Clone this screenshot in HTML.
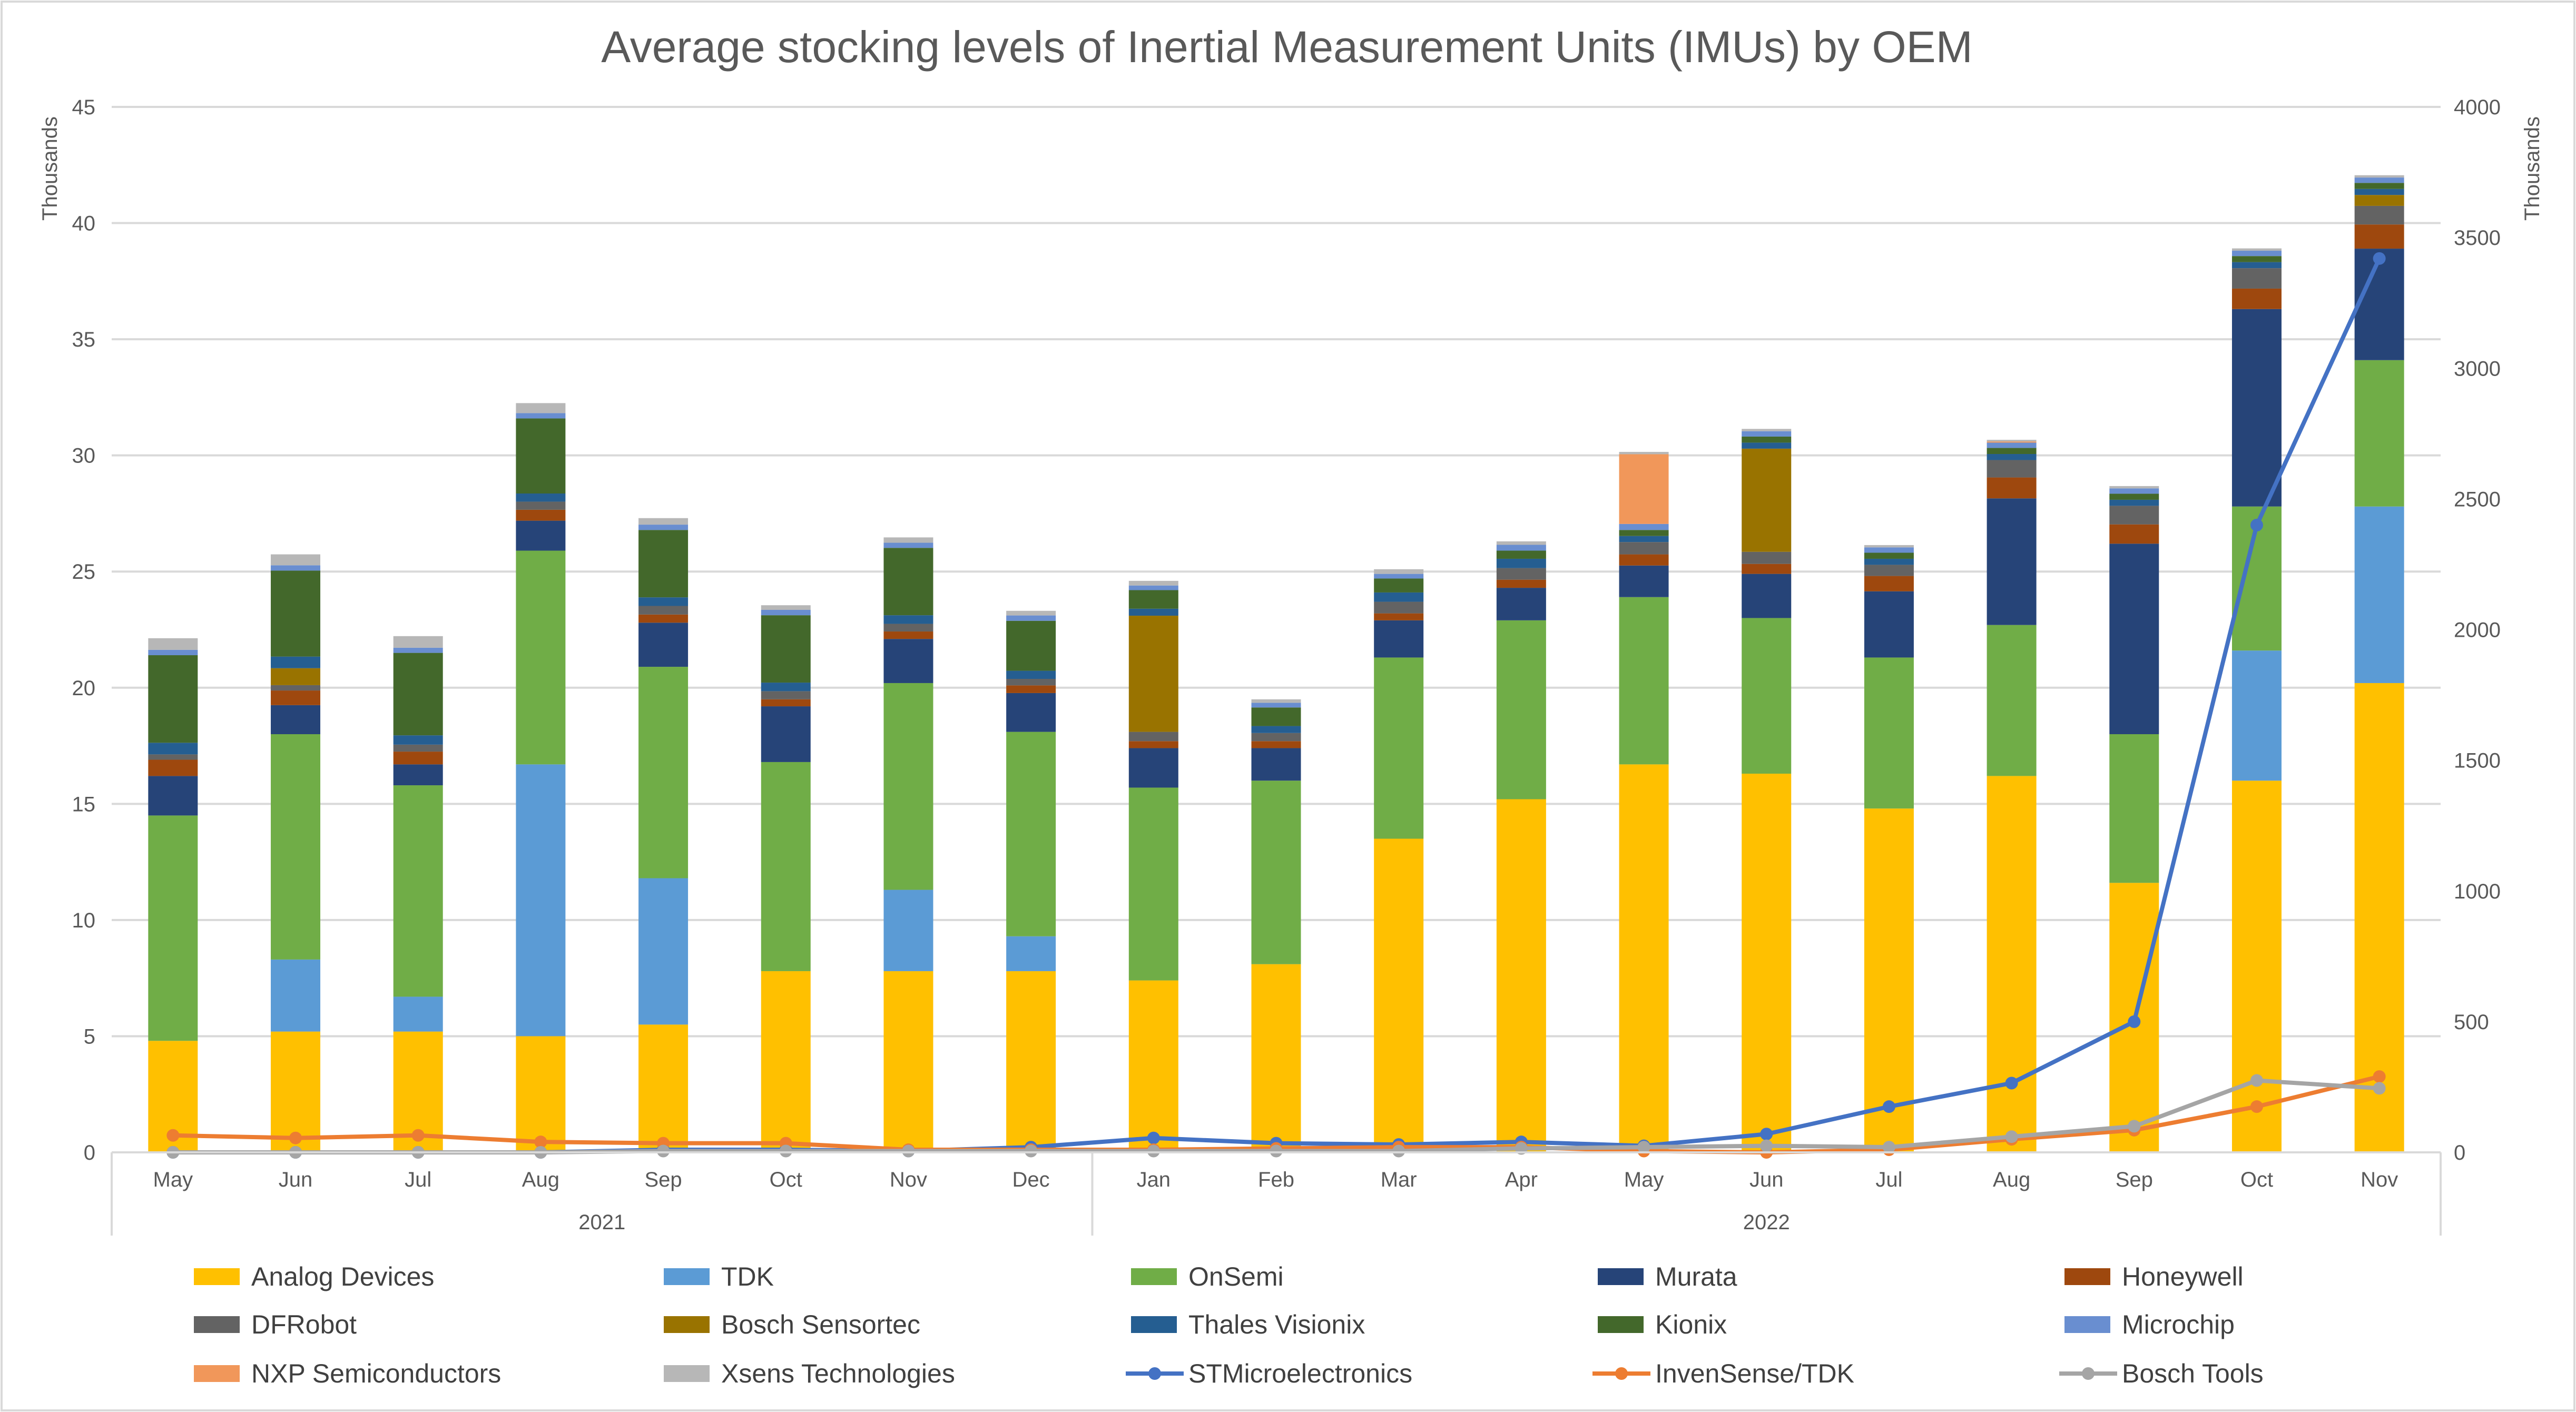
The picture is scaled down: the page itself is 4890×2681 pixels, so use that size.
<!DOCTYPE html>
<html><head><meta charset="utf-8"><style>
html,body{margin:0;padding:0;background:#fff;}
svg{display:block;font-family:"Liberation Sans",sans-serif;}
</style></head><body>
<svg id="chart" width="4890" height="2681" viewBox="0 0 4890 2681" xmlns="http://www.w3.org/2000/svg">
<rect x="3" y="3" width="4884" height="2675" fill="#fff" stroke="#d9d9d9" stroke-width="4"/>
<text x="2443" y="118" text-anchor="middle" font-size="84" fill="#595959">Average stocking levels of Inertial Measurement Units (IMUs) by OEM</text>
<text transform="translate(108,320) rotate(-90)" text-anchor="middle" font-size="40" fill="#595959">Thousands</text>
<text transform="translate(4820,320) rotate(-90)" text-anchor="middle" font-size="40" fill="#595959">Thousands</text>
<g id="grid"></g><g id="bars"></g><g id="lines"></g><g id="axes"></g><g id="legend"></g>
</svg>
<script>
const months = ["May","Jun","Jul","Aug","Sep","Oct","Nov","Dec","Jan","Feb","Mar","Apr","May","Jun","Jul","Aug","Sep","Oct","Nov"];
const years = ["2021","2022"];
const leftTicks = [0,5,10,15,20,25,30,35,40,45];
const rightTicks = [0,500,1000,1500,2000,2500,3000,3500,4000];
const seriesNames = ["Analog Devices","TDK","OnSemi","Murata","Honeywell","DFRobot","Bosch Sensortec","Thales Visionix","Kionix","Microchip","NXP Semiconductors","Xsens Technologies"];
const seriesColors = ["#ffc000","#5b9bd5","#70ad47","#264478","#9e480e","#636363","#997300","#255e91","#43682b","#698ed0","#f1975a","#b7b7b7"];
const analogDevices = [4.8,5.2,5.2,5.0,5.5,7.8,7.8,7.8,7.4,8.1,13.5,15.2,16.7,16.3,14.8,16.2,11.6,16.0,20.2];
const tdk = [0,3.1,1.5,11.7,6.3,0,3.5,1.5,0,0,0,0,0,0,0,0,0,5.6,7.6];
const onSemi = [9.7,9.7,9.1,9.2,9.1,9.0,8.9,8.8,8.3,7.9,7.8,7.7,7.2,6.7,6.5,6.5,6.4,6.2,6.3];
const murata = [1.7,1.25,0.9,1.29,1.9,2.4,1.9,1.67,1.7,1.4,1.6,1.4,1.36,1.9,2.85,5.45,8.2,8.5,4.8];
const honeywell = [0.7,0.63,0.55,0.47,0.35,0.3,0.32,0.33,0.3,0.3,0.3,0.35,0.48,0.43,0.66,0.9,0.83,0.88,1.04];
const dfRobot = [0.23,0.23,0.3,0.35,0.37,0.35,0.33,0.28,0.4,0.35,0.5,0.5,0.53,0.52,0.48,0.75,0.8,0.88,0.8];
const boschSensortec = [0,0.73,0,0,0,0,0,0,5.0,0,0,0,0,4.44,0,0,0,0,0.47];
const thalesVisionix = [0.5,0.5,0.4,0.35,0.37,0.37,0.37,0.35,0.3,0.3,0.4,0.4,0.26,0.26,0.26,0.26,0.26,0.26,0.26];
const kionix = [3.77,3.7,3.55,3.23,2.9,2.9,2.9,2.15,0.8,0.8,0.6,0.35,0.26,0.26,0.26,0.26,0.26,0.26,0.26];
const microchip = [0.23,0.23,0.22,0.23,0.23,0.23,0.22,0.23,0.2,0.2,0.2,0.25,0.26,0.23,0.23,0.23,0.23,0.23,0.23];
const nxp = [0,0,0,0,0,0,0,0,0,0,0,0,3.0,0,0,0.05,0,0,0];
const xsens = [0.5,0.47,0.5,0.43,0.28,0.2,0.23,0.2,0.2,0.15,0.2,0.15,0.1,0.1,0.1,0.07,0.1,0.1,0.1];
const stMicro = [0,0,0,0,10,10,5,20,55,35,30,40,25,70,175,265,500,2400,3420];
const invenSense = [65,55,65,40,35,35,10,10,10,15,20,20,5,0,10,50,85,175,290];
const boschTools = [0,0,0,0,5,5,5,5,5,5,5,15,20,25,20,60,100,275,245];
const lineNames = ["STMicroelectronics","InvenSense/TDK","Bosch Tools"];
const lineColors = ["#4472c4","#ed7d31","#a5a5a5"];

const NS="http://www.w3.org/2000/svg";
const X0=212,X1=4633,Y0=2188,Y45=203;
const band=(X1-X0)/months.length;
const xC=i=>X0+band*(i+0.5);
const yL=v=>Y0-(v/45)*(Y0-Y45);
const yR=v=>Y0-(v/4000)*(Y0-Y45);
function mk(tag,attrs,parent,txt){const e=document.createElementNS(NS,tag);for(const k in attrs)e.setAttribute(k,attrs[k]);if(txt!==undefined)e.textContent=txt;parent.appendChild(e);return e;}
const grid=document.getElementById('grid'),bars=document.getElementById('bars'),lines=document.getElementById('lines'),axes=document.getElementById('axes'),legend=document.getElementById('legend');

leftTicks.forEach(t=>{
  if(t>0){const g=mk('line',{x1:X0,x2:X1,y1:yL(t),y2:yL(t),stroke:'#d9d9d9','stroke-width':4},grid);
  
  }
  const l=mk('text',{x:181,y:yL(t)+14,'text-anchor':'end','font-size':40,fill:'#595959'},axes,String(t));
  
  
});
rightTicks.forEach(t=>{
  const l=mk('text',{x:4658,y:yR(t)+14,'text-anchor':'start','font-size':40,fill:'#595959'},axes,String(t));
  
  
});

const stacks=[analogDevices,tdk,onSemi,murata,honeywell,dfRobot,boschSensortec,thalesVisionix,kionix,microchip,nxp,xsens];
const bw=94;
months.forEach((m,i)=>{
  let base=0;
  stacks.forEach((s,k)=>{
    const v=s[i]; if(!v){return;}
    const r=mk('rect',{x:xC(i)-bw/2,y:yL(base+v),width:bw,height:yL(base)-yL(base+v),fill:seriesColors[k]},bars);
    
    
    base+=v;
  });
});

// axis line
const ax=mk('line',{x1:X0,x2:X1,y1:Y0,y2:Y0,stroke:'#d9d9d9','stroke-width':4},axes);


[0,8,19].forEach(i=>{
  const x=X0+band*i;
  const d=mk('line',{x1:x,x2:x,y1:Y0,y2:2346,stroke:'#d9d9d9','stroke-width':4},axes);
  
  
});
months.forEach((m,i)=>{
  const t=mk('text',{x:xC(i),y:2253,'text-anchor':'middle','font-size':40,fill:'#595959'},axes,m);
  
  
});
[[years[0],X0+band*4],[years[1],X0+band*13.5]].forEach(([y,x])=>{
  const t=mk('text',{x:x,y:2334,'text-anchor':'middle','font-size':40,fill:'#595959'},axes,y);
  
  
});

[stMicro,invenSense,boschTools].forEach((s,k)=>{
  const pts=s.map((v,i)=>xC(i)+','+yR(v)).join(' ');
  const p=mk('polyline',{points:pts,fill:'none',stroke:lineColors[k],'stroke-width':8,'stroke-linejoin':'round'},lines);
  
  
  s.forEach((v,i)=>{
    const c=mk('circle',{cx:xC(i),cy:yR(v),r:12,fill:lineColors[k]},lines);
    
    
  });
});

const colSw=[368,1260,2147,3033,3919], rowY=[2424,2515,2608];
const legendItems=seriesNames.map((n,k)=>({n,c:seriesColors[k],line:false})).concat(lineNames.map((n,k)=>({n,c:lineColors[k],line:true})));
legendItems.forEach((it,j)=>{
  const col=j%5,row=Math.floor(j/5);
  const x=colSw[col],y=rowY[row];
  if(it.line){
    const l=mk('line',{x1:x-10,x2:x+100,y1:y,y2:y,stroke:it.c,'stroke-width':8},legend);
    
    
    const c=mk('circle',{cx:x+45,cy:y,r:12,fill:it.c},legend);
    
    
  } else {
    const r=mk('rect',{x:x,y:y-16,width:87,height:32,fill:it.c},legend);
    
    
  }
  const t=mk('text',{x:x+109,y:y+17,'font-size':50,fill:'#404040'},legend,it.n);
  
  
});
</script>
</body></html>
